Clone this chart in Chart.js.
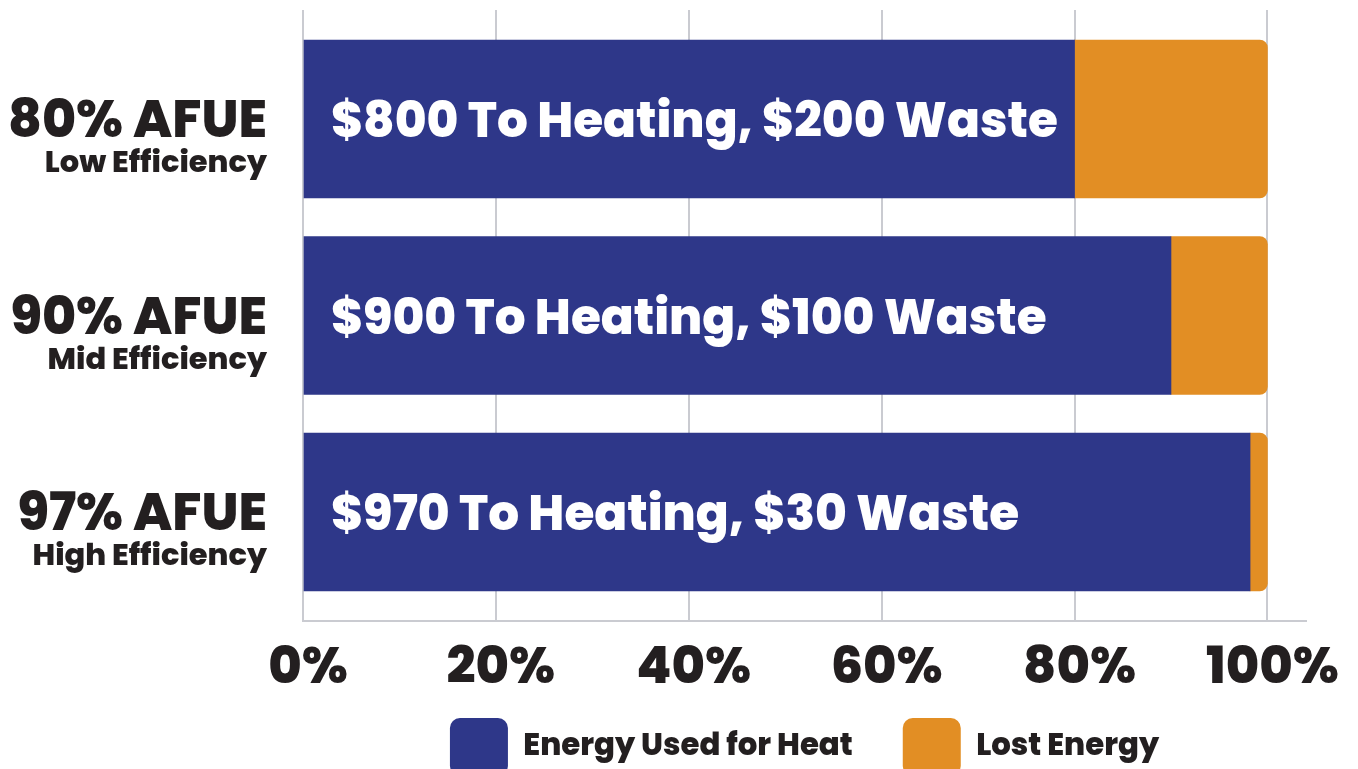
<!DOCTYPE html>
<html>
<head>
<meta charset="utf-8">
<script src="https://cdn.jsdelivr.net/npm/chart.js@4.4.1/dist/chart.umd.min.js"></script>
<style>
  html, body { margin:0; padding:0; background:#fff; overflow:hidden; }
  #wrap { width:1358px; height:786px; }
</style>
</head>
<body>
<div id="wrap"><canvas id="afueChart" width="1358" height="786"></canvas></div>
<script>
const categories = ['80% AFUE', '90% AFUE', '97% AFUE'];
const subLabels = ['Low Efficiency', 'Mid Efficiency', 'High Efficiency'];
const usedValues = [80, 90, 98.2];
const lostValues = [20, 10, 1.8];
const barTexts = ['$800 To Heating, $200 Waste', '$900 To Heating, $100 Waste', '$970 To Heating, $30 Waste'];
const xTicks = [0, 20, 40, 60, 80, 100];
const seriesNames = ['Energy Used for Heat', 'Lost Energy'];

const FONT = 'Poppins, Inter, "DejaVu Sans", sans-serif';
const INK = '#231f20';
const BLUE = '#2e3789';
const ORANGE = '#e28e24';
const GRID = '#cacbd1';

// y labels (two sizes) and the text inside each bar
const labelPlugin = {
  id: 'afueLabels',
  afterLayout(chart){
    // x axis is squeezed so the legend sits close; let its labels draw below it
    chart.scales.x.bottom = chart.height;
  },
  afterDatasetsDraw(chart){
    const { ctx, chartArea, scales } = chart;
    ctx.save();
    categories.forEach((c, i) => {
      const y = scales.y.getPixelForValue(i);
      ctx.fillStyle = INK;
      ctx.textAlign = 'right';
      ctx.textBaseline = 'alphabetic';
      ctx.font = `800 52px ${FONT}`;
      ctx.fillText(c, chartArea.left - 36, y + 18);
      ctx.font = `800 30.5px ${FONT}`;
      ctx.fillText(subLabels[i], chartArea.left - 36, y + 53);
      ctx.fillStyle = '#fff';
      ctx.textAlign = 'left';
      ctx.font = `800 48.5px ${FONT}`;
      ctx.fillText(barTexts[i], scales.x.getPixelForValue(0) + 28, y + 18);
    });
    ctx.restore();
  }
};

new Chart(document.getElementById('afueChart').getContext('2d'), {
  type: 'bar',
  data: {
    datasets: [
      { label: seriesNames[0], data: usedValues.map((v, i) => ({ x: v, y: i })), backgroundColor: BLUE, borderRadius: 0, barThickness: 158 },
      { label: seriesNames[1], data: lostValues.map((v, i) => ({ x: v, y: i })), backgroundColor: ORANGE, borderRadius: 8, barThickness: 158 }
    ]
  },
  options: {
    indexAxis: 'y',
    responsive: false,
    animation: false,
    layout: { padding: { left: 303, right: 52, top: 10, bottom: 0 } },
    plugins: {
      tooltip: { enabled: false },
      legend: {
        position: 'bottom',
        labels: {
          boxWidth: 58, boxHeight: 58, useBorderRadius: true, borderRadius: 10,
          padding: 50, color: INK,
          font: { family: FONT, size: 30.8, weight: '800' }
        }
      }
    },
    scales: {
      x: {
        type: 'linear', stacked: true, min: 0, max: 104,
        afterBuildTicks: s => { s.ticks = xTicks.map(v => ({ value: v })); },
        afterFit: s => { s.height = 47; },
        grid: { color: GRID, lineWidth: 2, drawTicks: false },
        border: { display: true, color: GRID, width: 2 },
        ticks: { padding: 19, labelOffset: 5, color: INK, font: { family: FONT, size: 51, weight: '800' }, callback: v => v + '%' }
      },
      y: {
        type: 'linear', stacked: true, reverse: true, offset: false, min: -0.555, max: 2.555,
        display: false
      }
    }
  },
  plugins: [labelPlugin]
});
</script>
</body>
</html>
